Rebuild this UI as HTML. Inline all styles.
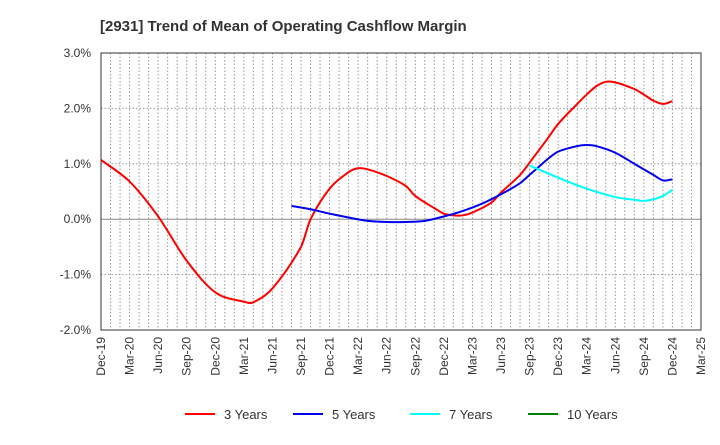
<!DOCTYPE html>
<html><head><meta charset="utf-8"><style>
body{margin:0;background:#fff;font-family:"Liberation Sans",sans-serif}
</style></head><body>
<svg id="c" width="720" height="440" xmlns="http://www.w3.org/2000/svg">
<text x="100" y="31" font-size="15" font-weight="bold" fill="#333">[2931]  Trend of Mean of Operating Cashflow Margin</text>
</svg>
<script>
const xLabels=["Dec-19","Mar-20","Jun-20","Sep-20","Dec-20","Mar-21","Jun-21","Sep-21","Dec-21","Mar-22","Jun-22","Sep-22","Dec-22","Mar-23","Jun-23","Sep-23","Dec-23","Mar-24","Jun-24","Sep-24","Dec-24","Mar-25"];
const yTicks=[-2,-1,0,1,2,3];
const m3=[0,3,6,9,12,15,16,18,21,22,24,26,27,28,30,32,33,35,36,37,38,39,41,42,44,45,47,48,50,51,52,53,54,56,57,58,59,60];
const v3=[1.07,0.68,0.05,-0.75,-1.32,-1.49,-1.5,-1.25,-0.5,0.0,0.55,0.85,0.92,0.9,0.78,0.6,0.42,0.2,0.1,0.07,0.07,0.12,0.3,0.48,0.8,1.02,1.48,1.72,2.08,2.25,2.4,2.48,2.47,2.35,2.25,2.14,2.08,2.13];
const m5=[20,22,24,26,28,30,32,34,36,38,40,42,44,45,46,47,48,50,51,52,54,56,58,59,60];
const v5=[0.24,0.18,0.1,0.03,-0.03,-0.05,-0.05,-0.03,0.05,0.15,0.28,0.45,0.65,0.8,0.95,1.1,1.22,1.32,1.34,1.32,1.2,1.0,0.8,0.7,0.72];
const m7=[45,48,51,54,56,57,58,59,60];
const v7=[0.97,0.75,0.55,0.4,0.35,0.33,0.36,0.42,0.53];
const m10=[];const v10=[];
const X0=101,X1=701,Y0=53,Y1=330;
const xs=m=>X0+m*(X1-X0)/63;
const ys=v=>Y1-(v+2)*(Y1-Y0)/5;
const svg=document.getElementById('c');const NS="http://www.w3.org/2000/svg";
function mk(t,a){const e=document.createElementNS(NS,t);for(const k in a)e.setAttribute(k,a[k]);svg.appendChild(e);return e;}
for(let m=1;m<63;m++){const l=mk('line',{x1:xs(m),x2:xs(m),y1:Y0,y2:Y1,stroke:'#999','stroke-dasharray':'1.5,2','stroke-width':1});

}
yTicks.forEach(v=>{const g=mk('line',{x1:X0,x2:X1,y1:ys(v),y2:ys(v),stroke:v===0?'#888':'#999','stroke-dasharray':v===0?'none':'1.5,2','stroke-width':1});


const t=mk('text',{x:91,y:ys(v)+4,'text-anchor':'end','font-size':12,fill:'#333'});


t.textContent=v.toFixed(1)+'%';});
xLabels.forEach((s,i)=>{const x=xs(i*3);const t=mk('text',{x:0,y:0,transform:`translate(${x+4},337) rotate(-90)`,'text-anchor':'end','font-size':12,fill:'#333'});


t.textContent=s;});
const fr=mk('rect',{x:X0,y:Y0,width:X1-X0,height:Y1-Y0,fill:'none',stroke:'#333','stroke-width':1});


function path(ms,vs){const p=ms.map((m,i)=>[xs(m),ys(vs[i])]);const n=p.length;if(!n)return '';
const s=p.map((q,i)=>{const a=p[Math.max(0,i-1)],c=p[Math.min(n-1,i+1)];return (c[1]-a[1])/(c[0]-a[0]);});
let d=`M${p[0][0]},${p[0][1]}`;
for(let i=0;i<n-1;i++){const b=p[i],c=p[i+1],dx=(c[0]-b[0])/3;
d+=` C${b[0]+dx},${b[1]+s[i]*dx} ${c[0]-dx},${c[1]-s[i+1]*dx} ${c[0]},${c[1]}`;}return d;}
const series=[[m3,v3,'#ff0000','3 Years',185],[m5,v5,'#0000ee','5 Years',293],[m7,v7,'#00ffff','7 Years',410],[m10,v10,'#008000','10 Years',528]];
series.forEach(([m,v,col,name,lx])=>{if(m.length){const p=mk('path',{d:path(m,v),fill:'none',stroke:col,'stroke-width':2});

}
const l=mk('line',{x1:lx,x2:lx+30,y1:414,y2:414,stroke:col,'stroke-width':2});


const t=mk('text',{x:lx+39,y:419,'font-size':13,fill:'#333'});


t.textContent=name;});
</script>
</body></html>
